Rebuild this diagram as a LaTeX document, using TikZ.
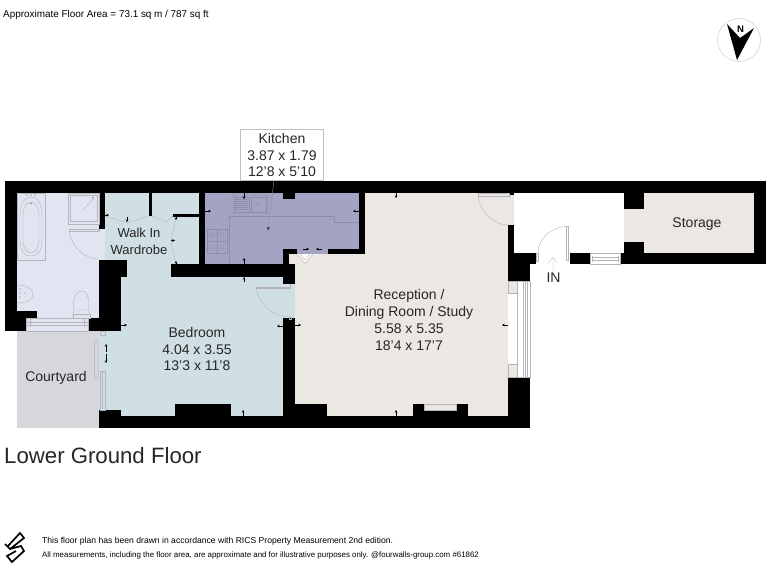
\documentclass[tikz,border=0pt]{standalone}
\usepackage{fontspec}
\setmainfont{Liberation Sans}
\usetikzlibrary{arrows.meta}
\definecolor{bathc}{HTML}{E1E4F1}
\definecolor{bedc}{HTML}{CFDFE4}
\definecolor{kitc}{HTML}{A3A3C3}
\definecolor{recc}{HTML}{EBE7E3}
\definecolor{courtc}{HTML}{D6D7DB}
\definecolor{fixc}{HTML}{B4B4BA}
\definecolor{fixk}{HTML}{8E8EAA}
\tikzset{
 wall/.style={fill=black,draw=none},
 fixture/.style={draw=fixc,line width=0.4pt,fill=none},
 kfixture/.style={draw=fixk,line width=0.4pt,fill=none},
 tick/.style={draw=black,line width=0.6pt,-{Stealth[length=2.6pt,width=2.6pt]}},
 roomlabel/.style={align=center,font=\fontsize{14}{16.8}\selectfont,text=black!85,inner sep=0pt},
 frame/.style={draw=fixc,line width=0.4pt,fill=white}
}
\begin{document}
\begin{tikzpicture}[x=1pt,y=-1pt]
\useasboundingbox (0,0) rectangle (768,576);
\fill[white] (0,0) rectangle (768,576);
% room fills
\fill[courtc] (17,331) rectangle (99,428);
\fill[bathc] (17,193) rectangle (105,320);
\fill[bedc] (105,193) rectangle (199,277);
\fill[bedc] (99,277) rectangle (295,416);
\fill[bedc] (99,318) rectangle (121,410);
\fill[kitc] (205,193) rectangle (359,254);
\fill[kitc] (205,254) rectangle (283,264);
\fill[recc] (365,193) rectangle (508,416);
\fill[recc] (295,254) rectangle (365,416);
\fill[recc] (289,254) rectangle (295,264);
\fill[recc] (624,193) rectangle (754,253);
\fill[recc] (508,195) rectangle (514,225);
% walls
\path[wall] (5,181) rectangle (766,193);
\path[wall] (5,193) rectangle (17,331);
\path[wall] (17,311) rectangle (37,318);
\path[wall] (5,318) rectangle (26,331);
\path[wall] (88,318) rectangle (121,331);
\path[wall] (99,260) rectangle (121,318);
\path[wall] (99,260) rectangle (127,277);
\path[wall] (99,193) rectangle (105,229);
\path[wall] (149,193) rectangle (152,216);
\path[wall] (173,214) rectangle (199,217);
\path[wall] (199,193) rectangle (205,264);
\path[wall] (171,264) rectangle (295,277);
\path[wall] (283,193) rectangle (295,199);
\path[wall] (283,249) rectangle (297,254);
\path[wall] (283,249) rectangle (289,264);
\path[wall] (283,264) rectangle (295,284);
\path[wall] (283,318) rectangle (295,428);
\path[wall] (359,193) rectangle (365,254);
\path[wall] (328,249) rectangle (365,254);
\path[wall] (99,410) rectangle (121,428);
\path[wall] (99,416) rectangle (530,428);
\path[wall] (175,404) rectangle (231,416);
\path[wall] (295,404) rectangle (327,416);
\path[wall] (413,404) rectangle (424,416);
\path[wall] (456,404) rectangle (468,416);
\path[wall] (424,410) rectangle (456,416);
\path[wall] (508,377) rectangle (530,428);
\path[wall] (508,253) rectangle (536,264);
\path[wall] (508,264) rectangle (530,281);
\path[wall] (508,225) rectangle (514,253);
\path[wall] (509,193) rectangle (514,195);
\path[wall] (570,253) rectangle (590,264);
\path[wall] (620,253) rectangle (766,264);
\path[wall] (754,193) rectangle (766,264);
\path[wall] (624,193) rectangle (644,209);
\path[wall] (624,242) rectangle (644,253);
% bathroom fixtures
\draw[fixture] (17,193) rectangle (45,260);
\draw[fixture] (20,215) .. controls (20,203) and (25,197) .. (31,197) .. controls (37,197) and (42,203) .. (42,215) -- (42,240) .. controls (42,252) and (37,256) .. (31,256) .. controls (25,256) and (20,252) .. (20,240) -- cycle;
\draw[fixture] (23,215) .. controls (23,207) and (27,202) .. (31,202) .. controls (35,202) and (39,207) .. (39,215) -- (39,240) .. controls (39,248) and (35,253) .. (31,253) .. controls (27,253) and (23,248) .. (23,240) -- cycle;
\fill[fixc!70!black] (31,203.5) circle (0.9) (27,195) circle (0.6) (31,195) circle (0.6) (35,195) circle (0.6);
\draw[fixture] (68,193) rectangle (99,224);
\draw[fixture] (70,195) rectangle (97,221);
\draw[fixture] (82,211) -- (93,199);
\fill[fixc!70!black] (93,198) circle (0.8);
\draw[fixture] (17,285) .. controls (28,285) and (33,290) .. (33,294) .. controls (33,299) and (28,303) .. (17,303);
\fill[fixc!70!black] (20,289) circle (0.6) (20,293) circle (0.6) (20,297) circle (0.6) (25,293) circle (0.6);
\draw[fixture] (74,310) .. controls (72,296) and (77,291) .. (82,291) .. controls (86,291) and (90,296) .. (88,310) -- cycle;
\draw[fixture] (73,314) rectangle (90,318);
\draw[fixture] (73,318) -- (73,314) -- (74,310) (90,314) -- (88,310);
\draw[frame,fill=bathc] (26,318.5) rectangle (88,331);
\draw[fixture] (26,322) -- (88,322) (26,325) -- (88,325) (30,319) -- (30,327) (84,319) -- (84,327);
\draw[fixture] (69,229) rectangle (99,231);
\draw[fixture] (69,231) .. controls (71,246) and (84,259) .. (99,259);
% wardrobe doors
\draw[fixture] (105,216) -- (127,223) -- (149,216);
\draw[fixture] (152,216) -- (166,222) -- (173,216);
\draw[fixture] (176,218) -- (171,241) -- (176,264);
% kitchen fixtures
\draw[kfixture,rounded corners=2pt] (232,195) rectangle (268,214);
\draw[kfixture] (234,197) rectangle (249,212);
\draw[kfixture] (251,197) rectangle (266,212);
\foreach \yy in {199,201,203,205,207,209}{\draw[kfixture] (235,\yy) -- (248,\yy);}
\draw[kfixture] (258,204.5) circle (1.3);
\draw[kfixture] (229,264) -- (229,216.5) -- (334,216.5) -- (334,222) -- (359,222);
\draw[kfixture] (207,229) rectangle (227,253);
\draw[kfixture] (207,241) -- (227,241) (217,229) -- (217,253);
\foreach \cx/\cy in {212/235,222/235,212/247,222/247}{\draw[kfixture] (\cx,\cy) circle (2.2);}
% kitchen-reception doors
\draw[fixture,fill=white] (297,254) -- (305,263.5) -- (313,254);
\draw[fixture] (300,254) -- (305,260) -- (310,254);
% bedroom door
\draw[fixture] (256,287) rectangle (290,288.5);
\draw[fixture] (256,288.5) .. controls (260,306) and (274,317) .. (290,317);
\draw[fixture] (290,284) -- (290,288);
\draw[fixture] (289,317) rectangle (291,319);
% reception door
\draw[fixture] (478,193.5) rectangle (509,196);
\draw[fixture] (478,196) .. controls (480,212) and (494,225) .. (508,225);
% reception window
\draw[frame] (517,281) rectangle (530,377);
\draw[fixture] (523,281) -- (523,377) (525,281) -- (525,377) (527,281) -- (527,377);
\draw[frame,fill=recc] (508,281) rectangle (517,293);
\draw[frame,fill=recc] (508,364) rectangle (517,377);
\draw[frame,fill=recc] (424,404) rectangle (456,410);
% entrance
\draw[fixture] (536,253) rectangle (538,261);
\draw[fixture] (566,226.5) rectangle (568.5,260);
\draw[fixture] (538,253) .. controls (538,238) and (552,227) .. (566,226.5);
\draw[draw=black!18,line width=0.5pt] (553,272) -- (553,258) (548,263) -- (553,257.5) -- (558,263);
\draw[frame] (590,253.5) rectangle (620,264);
\draw[fixture] (592,257) -- (618,257) (592,260) -- (618,260) (592,256) -- (592,262) (618,256) -- (618,262);
% courtyard door
\draw[fill=courtc,draw=fixc,line width=0.5pt,rounded corners=1pt] (94.5,340) rectangle (98,378.5);
\draw[fill=bedc,draw=fixc,line width=0.4pt] (100,371) rectangle (105,410);
\draw[fixture] (102.5,372) -- (102.5,409);
\draw[fill=bedc,draw=fixc,line width=0.3pt] (100,331) rectangle (105,335);
% measure ticks
\draw[tick] (244,193) -- (244,199);
\draw[tick] (244,264) -- (244,258);
\draw[tick] (244,282) -- (244,277);
\draw[tick] (205,211) -- (211,211);
\draw[tick] (359,211) -- (353,211);
\draw[tick] (303,249) -- (309,249);
\draw[tick] (322,249) -- (316,249);
\draw[tick] (396,193) -- (396,198);
\draw[tick] (396,416) -- (396,410);
\draw[tick] (243,416) -- (243,410);
\draw[tick] (283,326) -- (277,326);
\draw[tick] (295,325) -- (301,325);
\draw[tick] (508,325) -- (502,325);
\draw[tick] (121,325) -- (127,325);
\draw[tick] (127,217) -- (127,222);
\draw[tick] (150.5,216) -- (150.5,212);
\draw[tick] (105,215) -- (109,215);
\draw[tick] (199,211) -- (205,211);
\draw[tick] (176,217) -- (176,220);
\draw[tick] (176,264) -- (176,261);
\draw[tick] (106,352) -- (106,344);
\draw[tick] (106,354) -- (106,363);
\draw[tick] (171,240.5) -- (175,240.5);
% labels
\node[draw=black!25,line width=0.4pt,fill=white,minimum width=83pt,minimum height=51pt,inner sep=0pt] (kitbox) at (281.5,154.5) {};
\node[roomlabel] (kitlabel) at (282,155) {Kitchen\\3.87 x 1.79\\12'8 x 5'10};
\coordinate (kittip) at (268,230);
\draw[draw=fixk,line width=0.4pt,-{Stealth[length=3pt,width=2.6pt,color=black]}] (kitbox.south -| 274,180) -- (kittip);
\node[roomlabel,font=\fontsize{13}{16.8}\selectfont] (wardlabel) at (139,241) {Walk In\\Wardrobe};
\node[roomlabel] (bedlabel) at (197,349) {Bedroom\\4.04 x 3.55\\13'3 x 11'8};
\node[roomlabel] (reclabel) at (409,320) {Reception /\\Dining Room / Study\\5.58 x 5.35\\18'4 x 17'7};
\node[roomlabel] (courtlabel) at (56,377.5) {Courtyard};
\node[roomlabel] (storelabel) at (697,224) {Storage};
\node[roomlabel] (inlabel) at (553.5,277.5) {IN};
\node[anchor=west,inner sep=0pt,font=\fontsize{22.2}{24}\selectfont,text=black!85] (floorlabel) at (4,456) {Lower Ground Floor};
\node[anchor=west,inner sep=0pt,font=\fontsize{9.9}{10}\selectfont] (arealabel) at (3,15) {Approximate Floor Area = 73.1 sq m / 787 sq ft};
\node[anchor=west,inner sep=0pt,font=\fontsize{8.6}{9}\selectfont] (foot1) at (42,541) {This floor plan has been drawn in accordance with RICS Property Measurement 2nd edition.};
\node[anchor=west,inner sep=0pt,font=\fontsize{7.9}{9}\selectfont] (foot2) at (42,555) {All measurements, including the floor area, are approximate and for illustrative purposes only. @fourwalls-group.com \#61862};
% compass
\node[circle,draw=black!20,line width=0.5pt,minimum size=43pt,inner sep=0pt] (compass) at (739,40) {};
\fill[black] (727,24) -- (737,60) -- (754,28) -- (740,38) -- cycle;
\node[font=\bfseries\fontsize{9.5}{9.5}\selectfont,inner sep=0pt] (north) at (740.5,29) {N};
% logo
\draw[black,line width=1.7pt,line join=miter] (8,546) -- (20,533) -- (24,538) -- (10,549) -- (5,544) (10,549) -- (21,546) -- (24,551) -- (12,562) -- (7,556) -- (16,551);
\end{tikzpicture}
\end{document}
